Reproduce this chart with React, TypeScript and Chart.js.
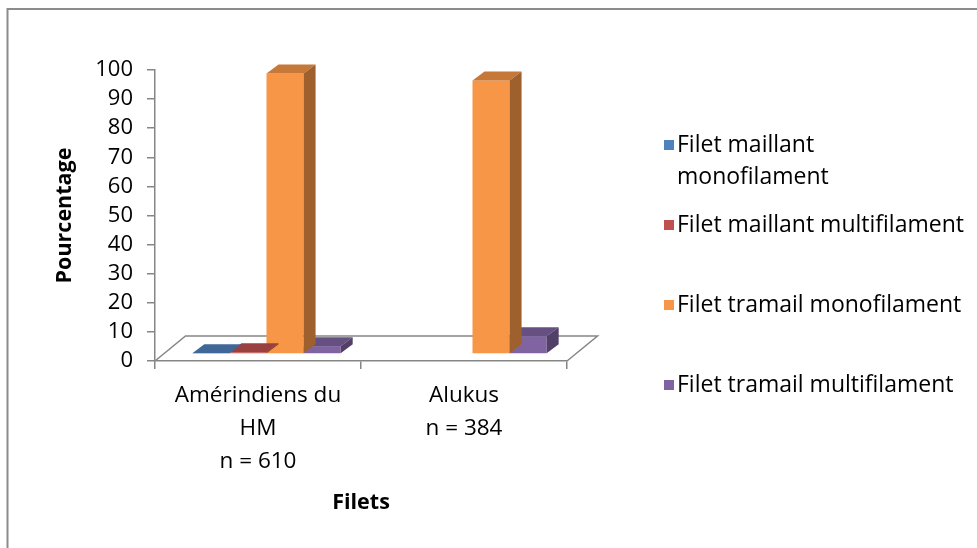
import React, { useEffect, useRef } from 'react';
import { Chart, registerables } from 'chart.js';

Chart.register(...registerables);

// ---- Data ----
const CATEGORIES: string[][] = [['Amérindiens du', 'HM', 'n = 610'], ['Alukus', 'n = 384']];
const SERIES_LABELS = [
  'Filet maillant monofilament',
  'Filet maillant multifilament',
  'Filet tramail monofilament',
  'Filet tramail multifilament',
];
const MAILLANT_MONO = [0.3, 0];
const MAILLANT_MULTI = [0.6, 0];
const TRAMAIL_MONO = [96.4, 94];
const TRAMAIL_MULTI = [2.7, 6.1];
const SERIES_VALUES = [MAILLANT_MONO, MAILLANT_MULTI, TRAMAIL_MONO, TRAMAIL_MULTI];
const Y_MIN = 0;
const Y_MAX = 100;
const Y_STEP = 10;
const Y_TITLE = 'Pourcentage';
const X_TITLE = 'Filets';

// ---- Styles ----
const COLORS = ['#4F81BD', '#C0504D', '#F79646', '#8064A2'];
const AXIS_GREY = '#868686';
const FONT = '"Open Sans", "DejaVu Sans", sans-serif';

const PLANE_DX = 8.5; // bar front plane offset from axis plane
const PLANE_DY = -7;
const BAR_DX = 12; // bar depth
const BAR_DY = -9;
const FLOOR_DX = 30.5;
const FLOOR_DY = -25;

function shade(hex: string, f: number) {
  const n = parseInt(hex.slice(1), 16);
  const r = Math.round(((n >> 16) & 255) * f);
  const g = Math.round(((n >> 8) & 255) * f);
  const b = Math.round((n & 255) * f);
  return `rgb(${r},${g},${b})`;
}

const frame3d = {
  id: 'frame3d',
  beforeDraw(chart: any) {
    const ctx = chart.ctx;
    ctx.save();
    ctx.fillStyle = '#ffffff';
    ctx.fillRect(0, 0, chart.width, chart.height);
    ctx.strokeStyle = '#8c8c8c';
    ctx.lineWidth = 2;
    ctx.strokeRect(7.5, 9, 2000, 2000);
    ctx.restore();
  },
  beforeDatasetsDraw(chart: any) {
    const { ctx, chartArea } = chart;
    const { left, right, bottom } = chartArea;
    ctx.save();
    ctx.strokeStyle = AXIS_GREY;
    ctx.lineWidth = 1.5;
    ctx.beginPath();
    ctx.moveTo(left, bottom);
    ctx.lineTo(left + FLOOR_DX, bottom + FLOOR_DY);
    ctx.lineTo(right + FLOOR_DX, bottom + FLOOR_DY);
    ctx.lineTo(right, bottom);
    ctx.stroke();
    ctx.restore();
  },
  beforeDatasetDraw(chart: any, args: any) {
    const ctx = chart.ctx;
    const meta = args.meta;
    const ds = chart.data.datasets[args.index];
    const base = ds.backgroundColor as string;
    const topC = shade(base, 0.8);
    const sideC = shade(base, 0.64);
    ctx.save();
    meta.data.forEach((el: any, i: number) => {
      const v = ds.data[i];
      if (!v) return;
      const p = el.getProps(['x', 'y', 'base', 'width'], true);
      const l = p.x - p.width / 2 + PLANE_DX;
      const r = p.x + p.width / 2 + PLANE_DX;
      const t = p.y + PLANE_DY;
      const b = p.base + PLANE_DY;
      ctx.fillStyle = base;
      ctx.fillRect(l, t, r - l, b - t);
      ctx.fillStyle = topC;
      ctx.beginPath();
      ctx.moveTo(l, t);
      ctx.lineTo(l + BAR_DX, t + BAR_DY);
      ctx.lineTo(r + BAR_DX, t + BAR_DY);
      ctx.lineTo(r, t);
      ctx.closePath();
      ctx.fill();
      ctx.fillStyle = sideC;
      ctx.beginPath();
      ctx.moveTo(r, t);
      ctx.lineTo(r + BAR_DX, t + BAR_DY);
      ctx.lineTo(r + BAR_DX, b + BAR_DY);
      ctx.lineTo(r, b);
      ctx.closePath();
      ctx.fill();
    });
    ctx.restore();
    return false;
  },
  afterDraw(chart: any) {
    const ctx = chart.ctx;
    ctx.save();
    ctx.font = `23px ${FONT}`;
    ctx.textBaseline = 'middle';
    ctx.textAlign = 'left';
    const textX = 677;
    const wrapW = 291;
    const lineH = 32;
    chart.data.datasets.forEach((ds: any, i: number) => {
      const y0 = 145 + i * 80;
      ctx.fillStyle = ds.backgroundColor;
      ctx.fillRect(664, y0 - 5, 10, 10);
      const words = String(ds.label).split(' ');
      const lines: string[] = [];
      let cur = '';
      words.forEach((w) => {
        const test = cur ? cur + ' ' + w : w;
        if (ctx.measureText(test).width > wrapW && cur) {
          lines.push(cur);
          cur = w;
        } else cur = test;
      });
      if (cur) lines.push(cur);
      ctx.fillStyle = '#000000';
      lines.forEach((ln, k) => ctx.fillText(ln, textX, y0 + k * lineH));
    });
    ctx.restore();
  },
};

export default function App() {
  const ref = useRef<HTMLCanvasElement | null>(null);
  useEffect(() => {
    if (!ref.current) return;
    const chart = new Chart(ref.current, {
      type: 'bar',
      data: {
        labels: CATEGORIES as any,
        datasets: SERIES_LABELS.map((label, i) => ({
          label,
          data: SERIES_VALUES[i],
          backgroundColor: COLORS[i],
          borderWidth: 0,
          barPercentage: 1,
          categoryPercentage: 0.72,
        })),
      },
      options: {
        responsive: false,
        animation: false,
        devicePixelRatio: 1,
        layout: { padding: { left: 0, top: 70, right: 410, bottom: 0 } },
        plugins: { legend: { display: false }, tooltip: { enabled: false } },
        scales: {
          x: {
            afterFit: (s: any) => {
              s.height = 187;
            },
            grid: {
              offset: true,
              drawOnChartArea: false,
              drawTicks: true,
              tickLength: 8,
              color: AXIS_GREY,
              lineWidth: 1.5,
            },
            border: { display: true, color: AXIS_GREY, width: 1.5 },
            ticks: {
              color: '#000000',
              font: { family: FONT, size: 22.5, lineHeight: '33px' } as any,
              padding: 10.5,
              maxRotation: 0,
              autoSkip: false,
            },
            title: {
              display: true,
              text: X_TITLE,
              color: '#000000',
              font: { family: FONT, size: 21.5, weight: 'bold' },
              padding: { top: 0, bottom: 32 },
            },
          },
          y: {
            min: Y_MIN,
            max: Y_MAX,
            afterFit: (s: any) => {
              s.width = 155;
            },
            grid: {
              drawOnChartArea: false,
              drawTicks: true,
              tickLength: 8,
              color: AXIS_GREY,
              lineWidth: 1.5,
            },
            border: { display: true, color: AXIS_GREY, width: 1.5 },
            ticks: {
              stepSize: Y_STEP,
              autoSkip: false,
              color: '#000000',
              font: { family: FONT, size: 22 },
              padding: 14,
            },
            title: {
              display: true,
              text: Y_TITLE,
              color: '#000000',
              font: { family: FONT, size: 21.5, weight: 'bold' },
              padding: { top: 52, bottom: 0 },
            },
          },
        },
      },
      plugins: [frame3d],
    });
    return () => chart.destroy();
  }, []);
  return (
    <div style={{ position: 'fixed', left: 0, top: 0, width: 977, height: 548, background: '#fff' }}>
      <canvas ref={ref} width={977} height={548} style={{ display: 'block' }} />
    </div>
  );
}
